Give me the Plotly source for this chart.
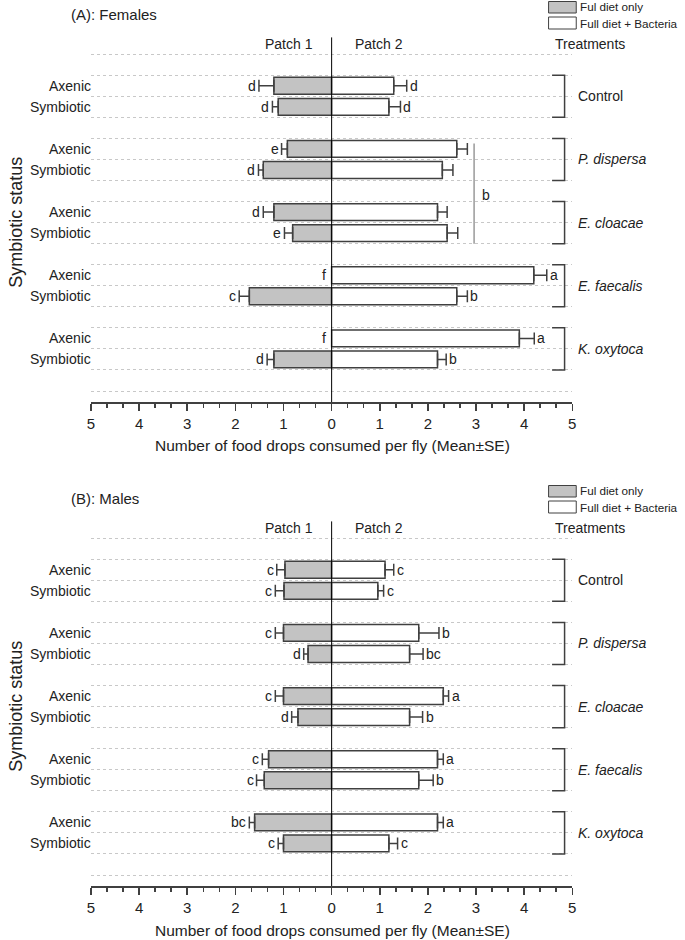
import plotly.graph_objects as go

W, H = 685, 940
FONT = "Liberation Sans"
TXT = "#222222"
EDGE = "#404040"

treatments = ["Control", "<i>P. dispersa</i>", "<i>E. cloacae</i>", "<i>E. faecalis</i>", "<i>K. oxytoca</i>"]
status = ["Axenic", "Symbiotic"]
tick_vals = [-5, -4, -3, -2, -1, 0, 1, 2, 3, 4, 5]
tick_text = ["5", "4", "3", "2", "1", "0", "1", "2", "3", "4", "5"]

# ---- Females (A) ---- order: Control A, Control S, P.d A, P.d S, E.c A, E.c S, E.f A, E.f S, K.o A, K.o S
f_p1 = [1.20, 1.11, 0.92, 1.42, 1.20, 0.81, None, 1.71, None, 1.20]
f_p1_se = [0.31, 0.12, 0.12, 0.10, 0.22, 0.17, 0, 0.21, 0, 0.14]
f_p2 = [1.29, 1.19, 2.60, 2.30, 2.20, 2.40, 4.20, 2.60, 3.90, 2.20]
f_p2_se = [0.27, 0.24, 0.22, 0.22, 0.20, 0.22, 0.27, 0.22, 0.31, 0.18]
f_p1_let = ["d", "d", "e", "d", "d", "e", "f", "c", "f", "d"]
f_p2_let = ["d", "d", "", "", "", "", "a", "b", "a", "b"]

# ---- Males (B) ----
m_p1 = [0.97, 0.99, 1.00, 0.49, 1.00, 0.70, 1.31, 1.40, 1.60, 1.00]
m_p1_se = [0.17, 0.18, 0.17, 0.09, 0.17, 0.13, 0.13, 0.16, 0.11, 0.11]
m_p2 = [1.11, 0.96, 1.81, 1.62, 2.32, 1.62, 2.20, 1.81, 2.20, 1.19]
m_p2_se = [0.18, 0.12, 0.42, 0.28, 0.11, 0.27, 0.12, 0.30, 0.12, 0.18]
m_p1_let = ["c", "c", "c", "d", "c", "d", "c", "c", "bc", "c"]
m_p2_let = ["c", "c", "b", "bc", "a", "b", "a", "b", "a", "c"]

# row positions (in row units; gridlines at integers)
ypos = []
for g in range(len(treatments)):
    for s in range(len(status)):
        ypos.append(16 - (3 * g + 1.5 + s))

def px_x(p):
    return p / W

def px_y(p):
    return 1 - p / H

Y_LO, Y_HI = -0.5223, 16.807
panels = [
    dict(title="(A): Females", off=0, xa="x", ya="y", p1=f_p1, p1se=f_p1_se, p2=f_p2, p2se=f_p2_se,
         l1=f_p1_let, l2=f_p2_let),
    dict(title="(B): Males", off=484, xa="x2", ya="y2", p1=m_p1, p1se=m_p1_se, p2=m_p2, p2se=m_p2_se,
         l1=m_p1_let, l2=m_p2_let),
]

fig = go.Figure()
shapes = []
annots = []

for i, P in enumerate(panels):
    off = P["off"]
    xa, ya = P["xa"], P["ya"]
    neg = [(-v if v is not None else None) for v in P["p1"]]
    fig.add_trace(go.Bar(
        x=neg, y=ypos, orientation="h", width=0.8, xaxis=xa, yaxis=ya,
        marker=dict(color="#c3c3c3", line=dict(color=EDGE, width=1.5)),
        error_x=dict(type="data", symmetric=False, array=[0] * len(neg), arrayminus=P["p1se"],
                     color=EDGE, thickness=1.5, width=6),
        showlegend=False, hoverinfo="skip"))
    fig.add_trace(go.Bar(
        x=P["p2"], y=ypos, orientation="h", width=0.8, xaxis=xa, yaxis=ya,
        marker=dict(color="#ffffff", line=dict(color=EDGE, width=1.5)),
        error_x=dict(type="data", symmetric=False, array=P["p2se"], arrayminus=[0] * len(ypos),
                     color=EDGE, thickness=1.5, width=6),
        showlegend=False, hoverinfo="skip"))

    # zero line
    shapes.append(dict(type="line", xref=xa, yref=ya, x0=0, x1=0, y0=Y_LO, y1=Y_HI,
                       line=dict(color="#000000", width=1)))
    # brackets and treatment labels
    for g, t in enumerate(treatments):
        top = 15 - 3 * g
        bot = top - 2
        shapes.append(dict(type="path", xref=xa, yref=ya,
                           path=f"M 4.58,{top} L 4.84,{top} L 4.84,{bot} L 4.58,{bot}",
                           line=dict(color=EDGE, width=1.5)))
        annots.append(dict(text=t, xref="paper", yref=ya, x=px_x(579), y=top - 1,
                           xanchor="left", yanchor="middle", showarrow=False,
                           font=dict(size=14, color=TXT)))
    # status labels
    for k, yv in enumerate(ypos):
        annots.append(dict(text=status[k % 2], xref="paper", yref=ya, x=px_x(90), y=yv,
                           xanchor="right", yanchor="middle", showarrow=False,
                           font=dict(size=14, color=TXT)))
    # letters
    for k, yv in enumerate(ypos):
        v1 = P["p1"][k]
        if P["l1"][k]:
            if v1 is None:
                annots.append(dict(text=P["l1"][k], xref=xa, yref=ya, x=-0.08, y=yv,
                                   xanchor="right", yanchor="middle", showarrow=False,
                                   font=dict(size=14, color=TXT)))
            else:
                annots.append(dict(text=P["l1"][k], xref=xa, yref=ya, x=-(v1 + P["p1se"][k]), y=yv,
                                   xanchor="right", yanchor="middle", showarrow=False, xshift=-1,
                                   font=dict(size=14, color=TXT)))
        if P["l2"][k]:
            annots.append(dict(text=P["l2"][k], xref=xa, yref=ya, x=P["p2"][k] + P["p2se"][k], y=yv,
                               xanchor="left", yanchor="middle", showarrow=False, xshift=1,
                               font=dict(size=14, color=TXT)))
    # header texts
    annots.append(dict(text="Patch 1", xref=xa, yref=ya, x=-0.88, y=16.5, xanchor="center",
                       yanchor="middle", showarrow=False, font=dict(size=14, color=TXT)))
    annots.append(dict(text="Patch 2", xref=xa, yref=ya, x=0.99, y=16.5, xanchor="center",
                       yanchor="middle", showarrow=False, font=dict(size=14, color=TXT)))
    annots.append(dict(text="Treatments", xref="paper", yref=ya, x=px_x(555), y=16.5,
                       xanchor="left", yanchor="middle", showarrow=False, font=dict(size=14, color=TXT)))
    # panel title
    annots.append(dict(text=P["title"], xref="paper", yref="paper", x=px_x(66), y=px_y(15 + off),
                       xanchor="left", yanchor="middle", showarrow=False, font=dict(size=15, color=TXT)))
    # x title
    annots.append(dict(text="Number of food drops consumed per fly (Mean\u00b1SE)", xref="paper", yref="paper",
                       x=px_x(332), y=px_y(446 + off), xanchor="center", yanchor="middle",
                       showarrow=False, font=dict(size=15.5, color=TXT)))
    # y title
    annots.append(dict(text="Symbiotic status", xref="paper", yref="paper", x=px_x(12), y=px_y(222 + off),
                       xanchor="center", yanchor="middle", textangle=-90, showarrow=False,
                       font=dict(size=18, color=TXT)))
    # legend
    shapes.append(dict(type="rect", xref="paper", yref="paper", x0=px_x(551), x1=px_x(579),
                       y0=px_y(13 + off), y1=px_y(1.5 + off), fillcolor="#c3c3c3",
                       line=dict(color=EDGE, width=1)))
    shapes.append(dict(type="rect", xref="paper", yref="paper", x0=px_x(551), x1=px_x(579),
                       y0=px_y(29 + off), y1=px_y(17 + off), fillcolor="#ffffff",
                       line=dict(color=EDGE, width=1)))
    annots.append(dict(text="Ful diet only", xref="paper", yref="paper", x=px_x(581), y=px_y(7 + off),
                       xanchor="left", yanchor="middle", showarrow=False, font=dict(size=11.7, color=TXT)))
    annots.append(dict(text="Full diet + Bacteria", xref="paper", yref="paper", x=px_x(581),
                       y=px_y(23 + off), xanchor="left", yanchor="middle", showarrow=False,
                       font=dict(size=11.7, color=TXT)))

# significance bracket 'b' (females, patch 2)
shapes.append(dict(type="line", xref="x", yref="y", x0=2.96, x1=2.96, y0=11.76, y1=7,
                   line=dict(color="#999999", width=1.5)))
annots.append(dict(text="b", xref="x", yref="y", x=3.08, y=9.3, xanchor="left", yanchor="middle",
                   showarrow=False, font=dict(size=14, color=TXT)))

xdom = [px_x(88), px_x(575)]
def xaxis_cfg(anchor):
    return dict(domain=xdom, range=[-5, 5], anchor=anchor, tickmode="array", tickvals=tick_vals,
                ticktext=tick_text, ticks="outside", ticklen=7, tickwidth=1.5, tickcolor=EDGE,
                showline=True, linecolor=EDGE, linewidth=1.5, showgrid=False, zeroline=False,
                tickfont=dict(size=15, color=TXT),
                minor=dict(ticks="outside", ticklen=4, tickwidth=1.5, tickcolor=EDGE,
                           tickmode="linear", tick0=0, dtick=1 / 3, showgrid=False))

def yaxis_cfg(anchor, top_px, bot_px):
    return dict(domain=[px_y(bot_px), px_y(top_px)], range=[Y_LO, Y_HI], anchor=anchor,
                tickmode="linear", tick0=0, dtick=1, showticklabels=False, ticks="",
                showgrid=True, gridcolor="#c8c8c8", gridwidth=1, griddash="dot",
                zeroline=False, showline=False)

fig.update_layout(
    width=W, height=H, margin=dict(l=0, r=0, t=0, b=0),
    paper_bgcolor="white", plot_bgcolor="white",
    font=dict(family=FONT, color=TXT),
    barmode="overlay", showlegend=False, hovermode=False,
    xaxis=xaxis_cfg("y"), yaxis=yaxis_cfg("x", 37.2, 402),
    xaxis2=xaxis_cfg("y2"), yaxis2=yaxis_cfg("x2", 37.2 + 484, 402 + 484),
    shapes=shapes, annotations=annots,
)

fig.write_html("out.html", config={"displayModeBar": False, "staticPlot": True},
               post_script="document.body.style.margin='0';document.body.style.padding='0';"
                           "document.documentElement.style.overflow='hidden';")
